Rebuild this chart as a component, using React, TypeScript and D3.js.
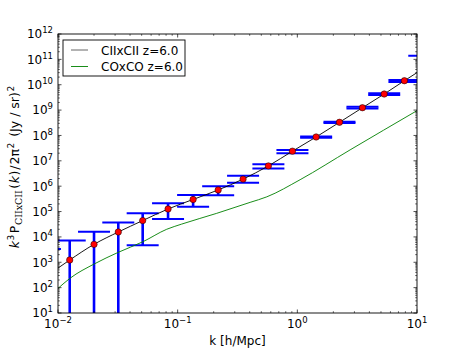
import React from 'react';
import * as d3 from 'd3';

// measured power spectrum points (k [h/Mpc], value, lower, upper)
const kBins = [0.00778, 0.01253, 0.02, 0.0319, 0.051, 0.0831, 0.1346, 0.218, 0.352, 0.573, 0.91, 1.436, 2.25, 3.5, 5.32, 7.85, 11.5];
const power = [350, 1230, 5100, 15600, 44000, 126000, 300000, 710000, 1.9e6, 6.3e6, 2.4e7, 8.7e7, 3.3e8, 1.24e9, 4.3e9, 1.44e10, 5e10];
const lowerVal = [0.1, 0.1, 0.1, 0.1, 4700, 51000, 155000, 440000, 1.37e6, 5.0e6, 2.0e7, 8.1e7, 3.1e8, 1.15e9, 3.9e9, 1.29e10, 1.4e10];
const upperVal = [3300, 7200, 16000, 37000, 85000, 210000, 450000, 1.0e6, 2.6e6, 7.4e6, 2.7e7, 9.1e7, 3.5e8, 1.35e9, 4.6e9, 1.55e10, 1.4e11];

// CIIxCII model curve
const ciiK = [0.01, 0.01253, 0.02, 0.0319, 0.051, 0.0831, 0.1346, 0.218, 0.352, 0.573, 0.91, 1.436, 2.25, 3.5, 5.32, 7.85, 10];
const ciiVal = [590, 1230, 5100, 15600, 44000, 126000, 300000, 710000, 1.9e6, 6.3e6, 2.4e7, 8.7e7, 3.3e8, 1.24e9, 4.3e9, 1.44e10, 3.0e10];

// COxCO model curve
const coK = [0.01, 0.0126, 0.02, 0.0318, 0.0514, 0.081, 0.108, 0.212, 0.403, 0.556, 1.055, 2.76, 10];
const coVal = [93, 234, 850, 2450, 6500, 20000, 32000, 85000, 230000, 380000, 1.8e6, 2.7e7, 9.5e8];

const xTickExp = [-2, -1, 0, 1];
const yTickExp = [1, 2, 3, 4, 5, 6, 7, 8, 9, 10, 11, 12];
const legendLabels = ['CIIxCII z=6.0', 'COxCO z=6.0'];

const L = 58, R = 417, T = 34, B = 313;
const FONT = 'DejaVu Sans, sans-serif';

export default function App() {
  const x = d3.scaleLog().domain([0.01, 10]).range([L, R]);
  const y = d3.scaleLog().domain([10, 1e12]).range([B, T]);

  const line = d3.line<[number, number]>().x(d => x(d[0])).y(d => y(d[1])).curve(d3.curveMonotoneX);
  const ciiPath = line(ciiK.map((k, i) => [k, ciiVal[i]]) as [number, number][]) || '';
  const coPath = line(coK.map((k, i) => [k, coVal[i]]) as [number, number][]) || '';

  const xMinor: number[] = [];
  for (const e of xTickExp.slice(0, -1)) for (let m = 2; m <= 9; m++) xMinor.push(m * Math.pow(10, e));
  const yMinor: number[] = [];
  for (const e of yTickExp.slice(0, -1)) for (let m = 2; m <= 9; m++) yMinor.push(m * Math.pow(10, e));

  const maj = 3.5, mnr = 1.8;
  const capW = 16;

  return (
    <svg width={463} height={348} style={{ position: 'absolute', left: 0, top: 0, background: '#fff' }} fontFamily={FONT}>
      <defs>
        <clipPath id="plot"><rect x={L} y={T} width={R - L} height={B - T} /></clipPath>
      </defs>
      <rect x={0} y={0} width={463} height={348} fill="#fff" />
      <g clipPath="url(#plot)">
        {kBins.map((k, i) => {
          const cx = x(k);
          return (
            <g key={i} stroke="#0000ff">
              <line x1={cx} x2={cx} y1={y(lowerVal[i])} y2={y(upperVal[i])} strokeWidth={2.6} />
              <line x1={cx - capW} x2={cx + capW} y1={y(lowerVal[i])} y2={y(lowerVal[i])} strokeWidth={2} />
              <line x1={cx - capW} x2={cx + capW} y1={y(upperVal[i])} y2={y(upperVal[i])} strokeWidth={2} />
            </g>
          );
        })}
        <path d={ciiPath} fill="none" stroke="#000" strokeWidth={0.9} />
        <path d={coPath} fill="none" stroke="#008000" strokeWidth={0.9} />
        {kBins.map((k, i) => (
          <circle key={i} cx={x(k)} cy={y(power[i])} r={3.2} fill="#ff0000" stroke="#000" strokeWidth={0.5} />
        ))}
      </g>
      {/* frame */}
      <rect x={L} y={T} width={R - L} height={B - T} fill="none" stroke="#000" strokeWidth={0.9} />
      {/* x ticks */}
      {xTickExp.map(e => {
        const px = x(Math.pow(10, e));
        return (
          <g key={'xt' + e} stroke="#000" strokeWidth={0.7}>
            <line x1={px} x2={px} y1={B} y2={B - maj} />
            <line x1={px} x2={px} y1={T} y2={T + maj} />
          </g>
        );
      })}
      {xMinor.map((v, i) => {
        const px = x(v);
        return (
          <g key={'xm' + i} stroke="#000" strokeWidth={0.6}>
            <line x1={px} x2={px} y1={B} y2={B - mnr} />
            <line x1={px} x2={px} y1={T} y2={T + mnr} />
          </g>
        );
      })}
      {yTickExp.map(e => {
        const py = y(Math.pow(10, e));
        return (
          <g key={'yt' + e} stroke="#000" strokeWidth={0.7}>
            <line x1={L} x2={L + maj} y1={py} y2={py} />
            <line x1={R} x2={R - maj} y1={py} y2={py} />
          </g>
        );
      })}
      {yMinor.map((v, i) => {
        const py = y(v);
        return (
          <g key={'ym' + i} stroke="#000" strokeWidth={0.6}>
            <line x1={L} x2={L + mnr} y1={py} y2={py} />
            <line x1={R} x2={R - mnr} y1={py} y2={py} />
          </g>
        );
      })}
      {/* tick labels */}
      {xTickExp.map(e => (
        <text key={'xl' + e} x={x(Math.pow(10, e))} y={328} textAnchor="middle" fontSize={12} fill="#000">
          10<tspan fontSize={8.5} dy={-5}>{e < 0 ? '\u2212' + Math.abs(e) : String(e)}</tspan>
        </text>
      ))}
      {yTickExp.map(e => (
        <text key={'yl' + e} x={53} y={y(Math.pow(10, e)) + 4.4} textAnchor="end" fontSize={12} fill="#000">
          10<tspan fontSize={8.5} dy={-5}>{String(e)}</tspan>
        </text>
      ))}
      {/* axis labels */}
      <text x={(L + R) / 2} y={345} textAnchor="middle" fontSize={12} fill="#000">k [h/Mpc]</text>
      <text transform={`translate(19,167) rotate(-90)`} textAnchor="middle" fontSize={12.5} fill="#000">
        <tspan fontStyle="italic">k</tspan>
        <tspan fontSize={9} dy={-5} dx={0.5}>3</tspan>
        <tspan dy={5} dx={1.5}>P</tspan>
        <tspan fontSize={9.5} dy={3} dx={0.5} fontFamily="DejaVu Serif, serif">CIIxCII</tspan>
        <tspan dy={-3} dx={1.5}>(</tspan>
        <tspan fontStyle="italic" dx={0.5}>k</tspan>
        <tspan dx={0.5}>)</tspan>
        <tspan dx={1}>/</tspan>
        <tspan dx={1}>2π</tspan>
        <tspan fontSize={9} dy={-5} dx={0.5}>2</tspan>
        <tspan dy={5} dx={2}> (Jy / sr)</tspan>
        <tspan fontSize={9} dy={-5} dx={0.5}>2</tspan>
      </text>
      {/* legend */}
      <rect x={63} y={40} width={122} height={36} fill="#fff" stroke="#000" strokeWidth={0.9} />
      <line x1={71} x2={88} y1={50} y2={50} stroke="#555" strokeWidth={0.9} />
      <line x1={71} x2={88} y1={66.5} y2={66.5} stroke="#008000" strokeWidth={0.9} />
      <text x={101} y={54.5} fontSize={12} fill="#000">{legendLabels[0]}</text>
      <text x={101} y={71} fontSize={12} fill="#000">{legendLabels[1]}</text>
    </svg>
  );
}
